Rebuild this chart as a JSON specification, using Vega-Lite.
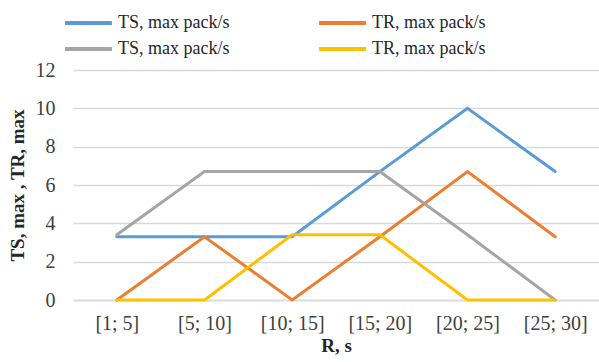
{
  "$schema": "https://vega.github.io/schema/vega-lite/v6.json",
  "width": 526,
  "height": 230,
  "autosize": "none",
  "padding": {"left": 73, "top": 70, "right": 0, "bottom": 62},
  "background": "white",
  "config": {
    "view": {"stroke": null},
    "font": "Liberation Serif"
  },
  "data": {
    "values": [
      {"r": "[1; 5]", "s": "TS1", "v": 3.3},
      {"r": "[5; 10]", "s": "TS1", "v": 3.3},
      {"r": "[10; 15]", "s": "TS1", "v": 3.3},
      {"r": "[15; 20]", "s": "TS1", "v": 6.7},
      {"r": "[20; 25]", "s": "TS1", "v": 10},
      {"r": "[25; 30]", "s": "TS1", "v": 6.7},
      {"r": "[1; 5]", "s": "TR1", "v": 0},
      {"r": "[5; 10]", "s": "TR1", "v": 3.3},
      {"r": "[10; 15]", "s": "TR1", "v": 0},
      {"r": "[15; 20]", "s": "TR1", "v": 3.3},
      {"r": "[20; 25]", "s": "TR1", "v": 6.7},
      {"r": "[25; 30]", "s": "TR1", "v": 3.3},
      {"r": "[1; 5]", "s": "TS2", "v": 3.4},
      {"r": "[5; 10]", "s": "TS2", "v": 6.7},
      {"r": "[10; 15]", "s": "TS2", "v": 6.7},
      {"r": "[15; 20]", "s": "TS2", "v": 6.7},
      {"r": "[20; 25]", "s": "TS2", "v": 3.4},
      {"r": "[25; 30]", "s": "TS2", "v": 0},
      {"r": "[1; 5]", "s": "TR2", "v": 0},
      {"r": "[5; 10]", "s": "TR2", "v": 0},
      {"r": "[10; 15]", "s": "TR2", "v": 3.4},
      {"r": "[15; 20]", "s": "TR2", "v": 3.4},
      {"r": "[20; 25]", "s": "TR2", "v": 0},
      {"r": "[25; 30]", "s": "TR2", "v": 0}
    ]
  },
  "mark": {"type": "line", "strokeWidth": 3, "strokeCap": "round", "strokeJoin": "miter"},
  "encoding": {
    "x": {
      "field": "r",
      "type": "ordinal",
      "sort": null,
      "scale": {"type": "point", "padding": 0.5},
      "axis": {
        "title": "R, s",
        "titleFont": "Liberation Serif",
        "titleFontSize": 19,
        "titleFontWeight": "bold",
        "titleColor": "#262626",
        "titlePadding": 3,
        "labelFont": "Liberation Serif",
        "labelFontSize": 20,
        "labelColor": "#404040",
        "labelAngle": 0,
        "labelPadding": 13,
        "ticks": false,
        "domainColor": "#d9d9d9",
        "domainWidth": 1.5,
        "grid": false
      }
    },
    "y": {
      "field": "v",
      "type": "quantitative",
      "scale": {"domain": [0, 12], "nice": false},
      "axis": {
        "title": "TS, max , TR, max",
        "titleFont": "Liberation Serif",
        "titleFontSize": 19,
        "titleFontWeight": "bold",
        "titleColor": "#262626",
        "titlePadding": 8,
        "labelFont": "Liberation Serif",
        "labelFontSize": 20,
        "labelColor": "#404040",
        "labelPadding": 18,
        "values": [0, 2, 4, 6, 8, 10, 12],
        "ticks": false,
        "domain": false,
        "grid": true,
        "gridColor": "#d9d9d9",
        "gridWidth": 1.5
      }
    },
    "color": {
      "field": "s",
      "type": "nominal",
      "scale": {
        "domain": ["TS1", "TR1", "TS2", "TR2"],
        "range": ["#5B9BD5", "#ED7D31", "#A5A5A5", "#FFC000"]
      },
      "legend": {
        "title": null,
        "orient": "none",
        "direction": "horizontal",
        "legendX": -10,
        "legendY": -57,
        "columns": 2,
        "columnPadding": 87,
        "rowPadding": 6,
        "clipHeight": 20,
        "symbolType": "stroke",
        "symbolSize": 2200,
        "symbolStrokeWidth": 4,
        "symbolOffset": 0,
        "labelOffset": 4,
        "labelFont": "Liberation Serif",
        "labelFontSize": 18,
        "labelColor": "#262626",
        "labelLimit": 300,
        "labelExpr": "indexof(datum.label, 'TS') == 0 ? 'TS, max pack/s' : 'TR, max pack/s'"
      }
    }
  }
}
